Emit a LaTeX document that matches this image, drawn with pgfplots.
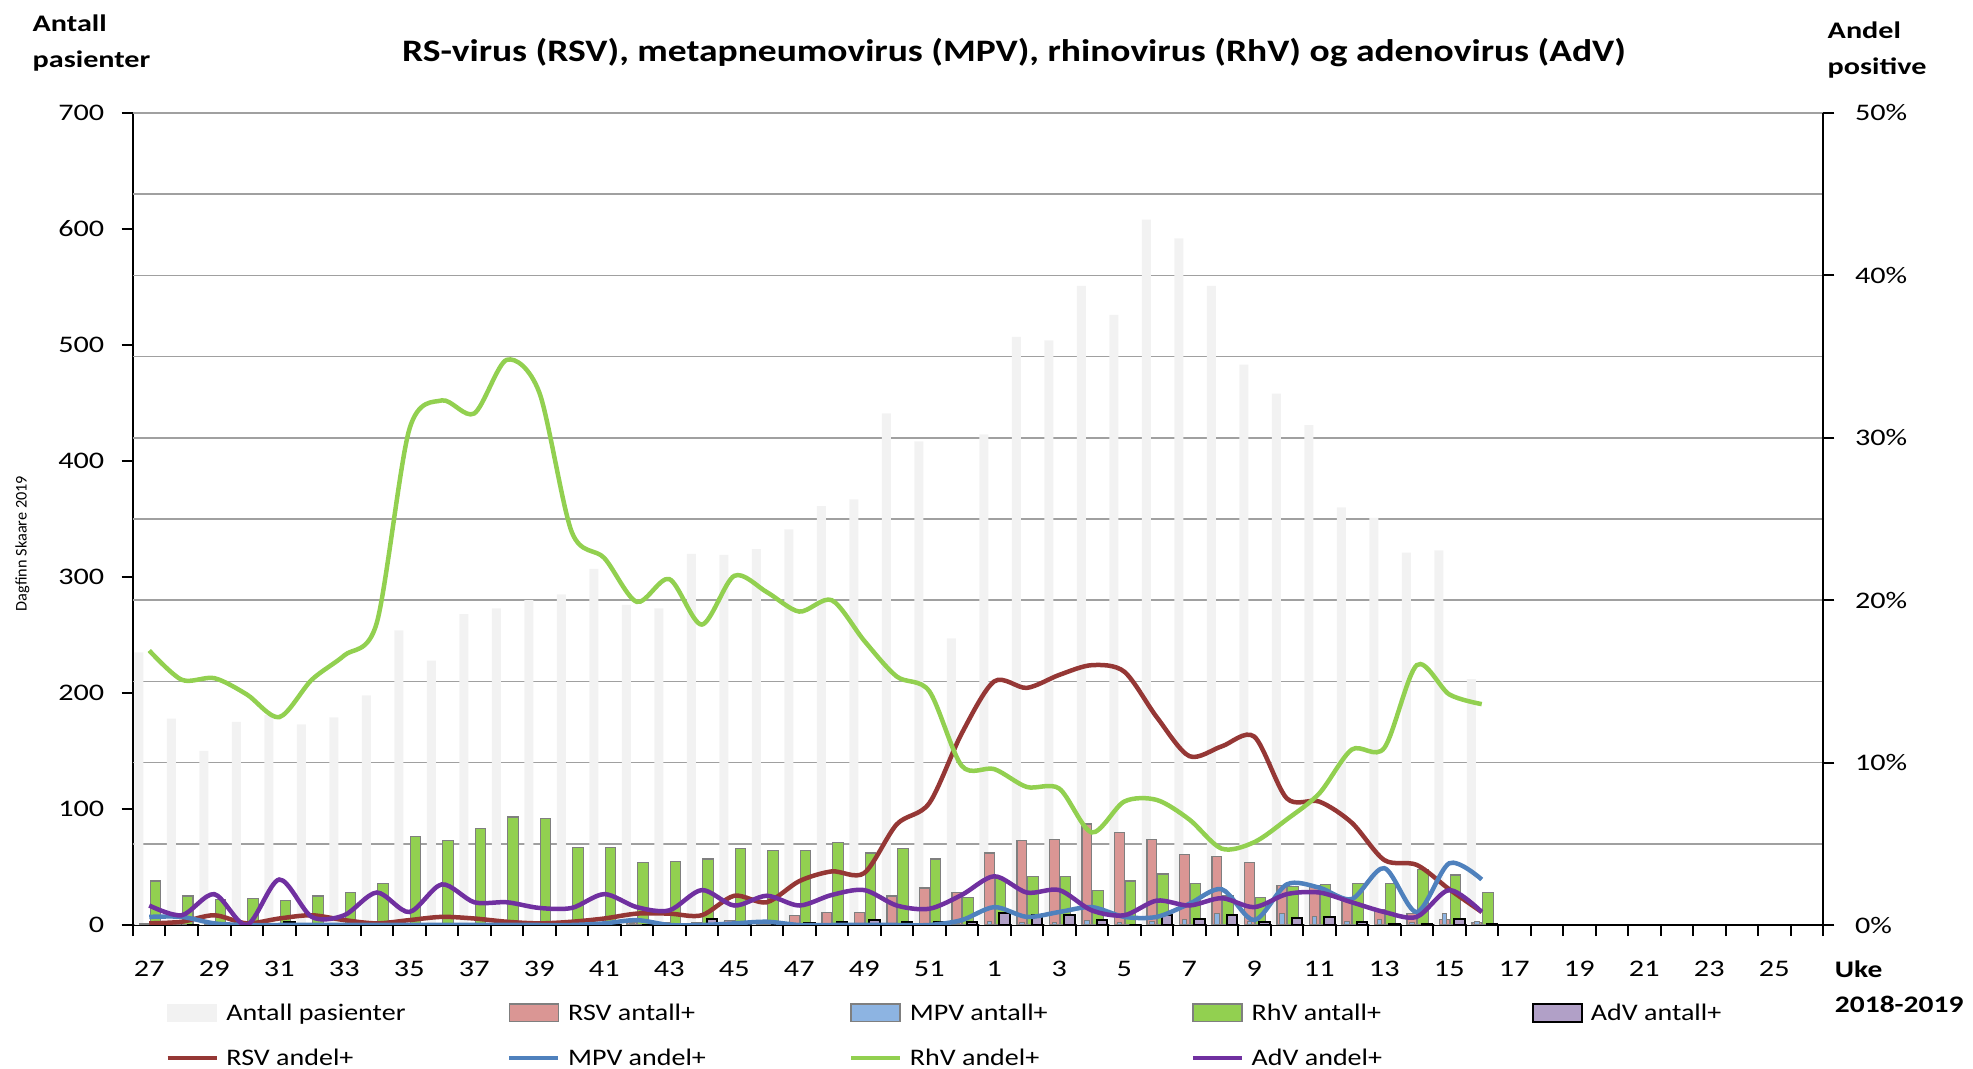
\documentclass[border=0pt]{standalone}
\usepackage{graphicx}
\usepackage{pgfplots}
\usepackage{pgfplotstable}
\pgfplotsset{compat=1.18}
\usepackage{fontspec}
\setmainfont{Carlito}

\definecolor{cgray}{RGB}{242,242,242}
\definecolor{cpink}{RGB}{218,150,148}
\definecolor{cblueb}{RGB}{141,180,226}
\definecolor{cgreen}{RGB}{146,208,80}
\definecolor{cpurpb}{RGB}{177,160,199}
\definecolor{cred}{RGB}{149,55,53}
\definecolor{cbluel}{RGB}{79,129,189}
\definecolor{cpurpl}{RGB}{112,48,160}
\definecolor{cgrid}{RGB}{160,160,160}
\definecolor{cbord}{RGB}{127,127,127}

\pgfplotstableread{
i tot rsv mpv rhv adv rsvp mpvp rhvp advp
0 235 1 1 38 0 0.1 0.5 16.9 1.2
1 178 0 1 25 0 0.2 0.5 15.1 0.6
2 150 1 0 22 0 0.6 0.1 15.2 1.9
3 175 0 0 23 0 0.1 0.0 14.2 0.0
4 181 1 0 21 3 0.4 0.0 12.8 2.8
5 173 1 0 25 0 0.6 0.0 15.1 0.5
6 179 0 0 28 0 0.3 0.0 16.6 0.6
7 198 0 0 36 0 0.1 0.0 18.6 2.0
8 254 1 0 76 0 0.3 0.0 30.5 0.8
9 228 1 0 73 0 0.5 0.0 32.3 2.5
10 268 1 0 83 0 0.4 0.0 31.5 1.4
11 273 0 0 93 2 0.2 0.0 34.8 1.4
12 280 0 0 92 0 0.1 0.0 32.8 1.05
13 285 1 0 67 0 0.2 0.0 24.2 1.05
14 307 1 0 67 0 0.4 0.1 22.6 1.9
15 276 2 1 54 0 0.7 0.3 19.9 1.1
16 273 2 0 55 0 0.7 0.0 21.3 0.9
17 320 2 0 57 5 0.6 0.0 18.5 2.15
18 319 4 0 66 0 1.8 0.1 21.5 1.2
19 324 4 1 64 2 1.4 0.2 20.5 1.8
20 341 8 0 64 2 2.7 0.0 19.3 1.2
21 361 11 0 71 3 3.3 0.0 20.0 1.85
22 367 11 0 62 4 3.2 0.0 17.5 2.15
23 441 25 0 66 3 6.2 0.0 15.3 1.2
24 417 32 0 57 3 7.5 0.0 14.4 1.0
25 247 28 1 24 3 11.8 0.3 9.8 1.85
26 423 62 3 40 10 15.0 1.1 9.6 3.0
27 507 73 2 42 9 14.6 0.5 8.5 2.0
28 504 74 2 42 9 15.4 0.8 8.4 2.15
29 551 87 4 30 4 16.0 1.1 5.7 0.9
30 526 80 2 38 0 15.6 0.5 7.6 0.6
31 608 74 3 44 9 12.8 0.5 7.7 1.5
32 592 61 5 36 5 10.4 1.3 6.5 1.2
33 551 59 10 25 9 11.0 2.2 4.7 1.65
34 483 54 3 24 3 11.6 0.3 5.1 1.1
35 458 34 10 33 6 7.8 2.5 6.5 1.9
36 431 34 7 35 7 7.6 2.3 8.1 2.0
37 360 20 3 36 3 6.3 1.6 10.8 1.4
38 351 13 5 36 1 4.0 3.5 10.9 0.8
39 321 10 2 48 1 3.7 0.8 16.0 0.5
40 323 5 10 43 5 2.2 3.8 14.2 2.15
41 212 2 3 28 1 0.8 2.8 13.6 0.8
}\data

\newcommand{\legtxt}[1]{\makebox[112.3pt][l]{\strut\scalebox{1.18}[1]{#1}}}

\pgfplotsset{
  barleg/.style={legend image code/.code={\draw[##1] (0pt,-3.5pt) rectangle (19.6pt,3.5pt);}},
  lineleg/.style={legend image code/.code={\draw[##1] (0pt,0pt) -- (19.6pt,0pt);}},
  common/.style={
    scale only axis, width=676pt, height=324.8pt,
    at={(0,0)}, anchor=south west,
    xmin=-0.5, xmax=51.5,
    tick align=outside,
    /pgf/number format/assume math mode=true,
    tick label style={font=\fontsize{9.5}{11}\selectfont, black, xscale=1.27},
  },
}

\begin{document}
\begin{tikzpicture}
\useasboundingbox (-53.2pt,-57.6pt) rectangle (736pt,370pt);

\begin{axis}[common,
  ymin=0, ymax=700,
  axis x line*=bottom, axis y line*=left,
  axis line style={black, line width=0.8pt},
  ytick={0,100,...,700},
  yticklabel style={xshift=-2pt},
  major tick length=4.5pt,
  major tick style={black, line width=0.8pt},
  xtick={0,2,...,50},
  xticklabels={27,29,31,33,35,37,39,41,43,45,47,49,51,1,3,5,7,9,11,13,15,17,19,21,23,25},
  major x tick style={draw=none},
  minor xtick={-0.5,0.5,...,51.5},
  minor tick length=4.5pt,
  minor x tick style={black, line width=0.8pt},
  xticklabel style={yshift=-6.5pt},
  extra y ticks={70,140,...,700},
  extra y tick labels={},
  extra y tick style={grid=major, major tick length=0pt},
  grid style={cgrid, line width=0.7pt},
]
\addplot[ybar, bar width=0.28, bar shift=-0.32, fill=cgray, draw=none] table[x=i,y=tot]{\data};
\addplot[ybar, bar width=0.30, bar shift=-0.15, fill=cpink, draw=cbord, line width=0.5pt] table[x=i,y=rsv]{\data};
\addplot[ybar, bar width=0.14, bar shift=-0.14, fill=cblueb, draw=cbord, line width=0.4pt] table[x=i,y=mpv]{\data};
\addplot[ybar, bar width=0.32, bar shift=0.19, fill=cgreen, draw=cbord, line width=0.5pt] table[x=i,y=rhv]{\data};
\addplot[ybar, bar width=0.32, bar shift=0.32, fill=cpurpb, draw=black, line width=0.8pt] table[x=i,y=adv]{\data};
\end{axis}

\begin{axis}[common,
  ymin=0, ymax=50,
  axis x line=none, axis y line*=right,
  axis line style={black, line width=0.8pt},
  ytick={0,10,...,50},
  yticklabel={\pgfmathprintnumber{\tick}\%},
  yticklabel style={xshift=3pt},
  major tick length=4.5pt,
  major tick style={black, line width=0.8pt},
  legend columns=5,
  legend style={draw=none, fill=none, at={(0.0189,-0.093)}, anchor=north west,
    inner sep=0pt, nodes={inner sep=0pt},
    font=\fontsize{9.5}{11.4}\selectfont,
    row sep=8.5pt,
    /tikz/every odd column/.append style={column sep=3pt}},
  legend cell align=left,
]
\addlegendimage{barleg, fill=cgray, draw=cgray}
\addlegendentry{\legtxt{Antall pasienter}}
\addlegendimage{barleg, fill=cpink, draw=cbord, line width=0.6pt}
\addlegendentry{\legtxt{RSV antall+}}
\addlegendimage{barleg, fill=cblueb, draw=cbord, line width=0.6pt}
\addlegendentry{\legtxt{MPV antall+}}
\addlegendimage{barleg, fill=cgreen, draw=cbord, line width=0.6pt}
\addlegendentry{\legtxt{RhV antall+}}
\addlegendimage{barleg, fill=cpurpb, draw=black, line width=0.8pt}
\addlegendentry{\legtxt{AdV antall+}}

\addplot[lineleg, cred, line width=1.8pt, smooth, no markers] table[x=i,y=rsvp]{\data};
\addlegendentry{\legtxt{RSV andel+}}
\addplot[lineleg, cbluel, line width=1.8pt, smooth, no markers] table[x=i,y=mpvp]{\data};
\addlegendentry{\legtxt{MPV andel+}}
\addplot[lineleg, cgreen, line width=1.8pt, smooth, no markers] table[x=i,y=rhvp]{\data};
\addlegendentry{\legtxt{RhV andel+}}
\addplot[lineleg, cpurpl, line width=1.8pt, smooth, no markers] table[x=i,y=advp]{\data};
\addlegendentry{\legtxt{AdV andel+}}
\end{axis}

\node[anchor=west, align=left, xscale=1.27, font=\bfseries\fontsize{9.5}{14.6}\selectfont] at (-44.6pt,352.7pt) {Antall\\pasienter};
\node[xscale=1.2, font=\bfseries\fontsize{12.5}{15}\selectfont] at (352.4pt,348.8pt) {RS-virus (RSV), metapneumovirus (MPV), rhinovirus (RhV) og adenovirus (AdV)};
\node[anchor=west, align=left, xscale=1.27, font=\bfseries\fontsize{9.5}{14.6}\selectfont] at (673.4pt,350pt) {Andel\\positive};
\node[anchor=west, align=left, xscale=1.24, font=\bfseries\fontsize{9.5}{14}\selectfont] at (676.4pt,-24.6pt) {Uke\\2018-2019};
\node[rotate=90, font=\fontsize{6.5}{8}\selectfont] at (-44.2pt,152.6pt) {Dagfinn Skaare 2019};
\end{tikzpicture}
\end{document}
